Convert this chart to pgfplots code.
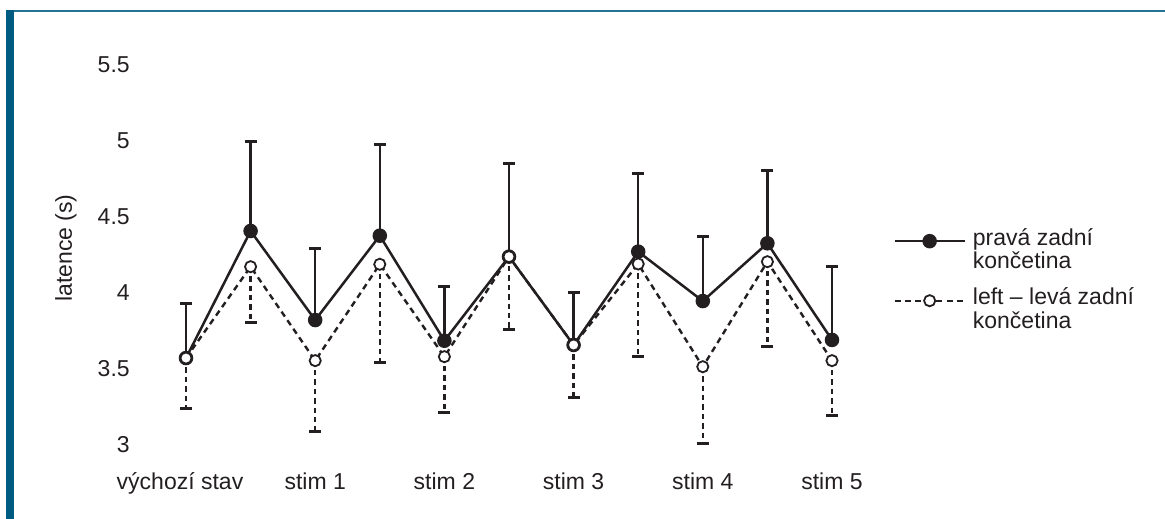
\documentclass[border=0pt]{standalone}
\usepackage{pgfplots}
\pgfplotsset{compat=1.18}
\usepackage{fontspec}
\setmainfont{Liberation Sans}
\definecolor{frame}{HTML}{005B80}
\definecolor{ink}{HTML}{231F20}

% right hind limb: mean and upper deviation
\pgfplotstableread{
x y e
0 3.572 0.356
1 4.408 0.587
2 3.822 0.474
3 4.377 0.597
4 3.686 0.360
5 4.239 0.614
6 3.658 0.346
7 4.272 0.515
8 3.947 0.424
9 4.327 0.482
10 3.691 0.482
}\rightlimb

% left hind limb: mean and lower deviation
\pgfplotstableread{
x y e
0 3.572 0.331
1 4.173 0.368
2 3.555 0.467
3 4.189 0.647
4 3.581 0.366
5 4.239 0.478
6 3.658 0.347
7 4.191 0.610
8 3.515 0.504
9 4.206 0.555
10 3.555 0.358
}\leftlimb

\begin{document}
\begin{tikzpicture}[font=\fontsize{11.5bp}{11.8bp}\selectfont]
\path[use as bounding box] (0,0) rectangle (582.5bp,259.5bp);
\fill[frame] (3bp,0) rectangle (7bp,254.5bp);
\draw[frame!85, line width=0.9bp] (7bp,253.9bp) -- (582.5bp,253.9bp);

\begin{axis}[
  at={(76.85bp,37bp)}, anchor=south west,
  scale only axis, width=355.3bp, height=190bp,
  xmin=-0.5, xmax=10.5, ymin=3, ymax=5.5,
  clip=false,
  axis line style={draw=none},
  major tick length=0pt,
  xtick={0,2,4,6,8,10},
  xticklabels={\hspace*{-6bp}výchozí stav, stim 1, stim 2, stim 3, stim 4, stim 5},
  ytick={3,3.5,4,4.5,5,5.5},
  yticklabels={3,3.5,4,4.5,5,5.5},
  xticklabel style={anchor=base, inner sep=0pt, yshift=-22.5bp, text=ink},
  yticklabel style={anchor=east, inner sep=0pt, xshift=-11.8bp, text=ink},
  legend style={draw=none, fill=none, inner sep=0pt, at={(1.0404,0.571)},
    anchor=north west, row sep=8bp, column sep=3.5bp,
    nodes={inner sep=0pt, align=left, text=ink}},
  legend cell align=left,
  legend image code/.code={
    \draw[mark repeat=2, mark phase=2, #1]
      plot coordinates {(0bp,4.5bp) (17.5bp,4.5bp) (35bp,4.5bp)};
  },
]
\addplot[ink, solid, line width=1.25bp, mark=*, mark size=3bp,
  mark options={fill=ink, solid},
  error bars/.cd, y dir=plus, y explicit,
  error bar style={line width=1.15bp, solid},
  error mark options={rotate=90, line width=1.5bp, mark size=3bp, solid}]
  table[x=x, y=y, y error plus=e] {\rightlimb};
\addlegendentry{pravá zadní\\končetina}

\addplot[ink, line width=1.2bp, dash pattern=on 3bp off 2.2bp, mark=*, mark size=2.8bp,
  mark options={fill=white, solid, line width=0.9bp},
  error bars/.cd, y dir=minus, y explicit,
  error bar style={line width=1.15bp, dash pattern=on 2.7bp off 2bp},
  error mark options={rotate=90, line width=1.5bp, mark size=3bp, solid}]
  table[x=x, y=y, y error minus=e] {\leftlimb};
\addlegendentry{left -- levá zadní\\končetina}
\end{axis}

\node[rotate=90, text=ink] at (33bp,135.5bp) {latence (s)};
\end{tikzpicture}
\end{document}
